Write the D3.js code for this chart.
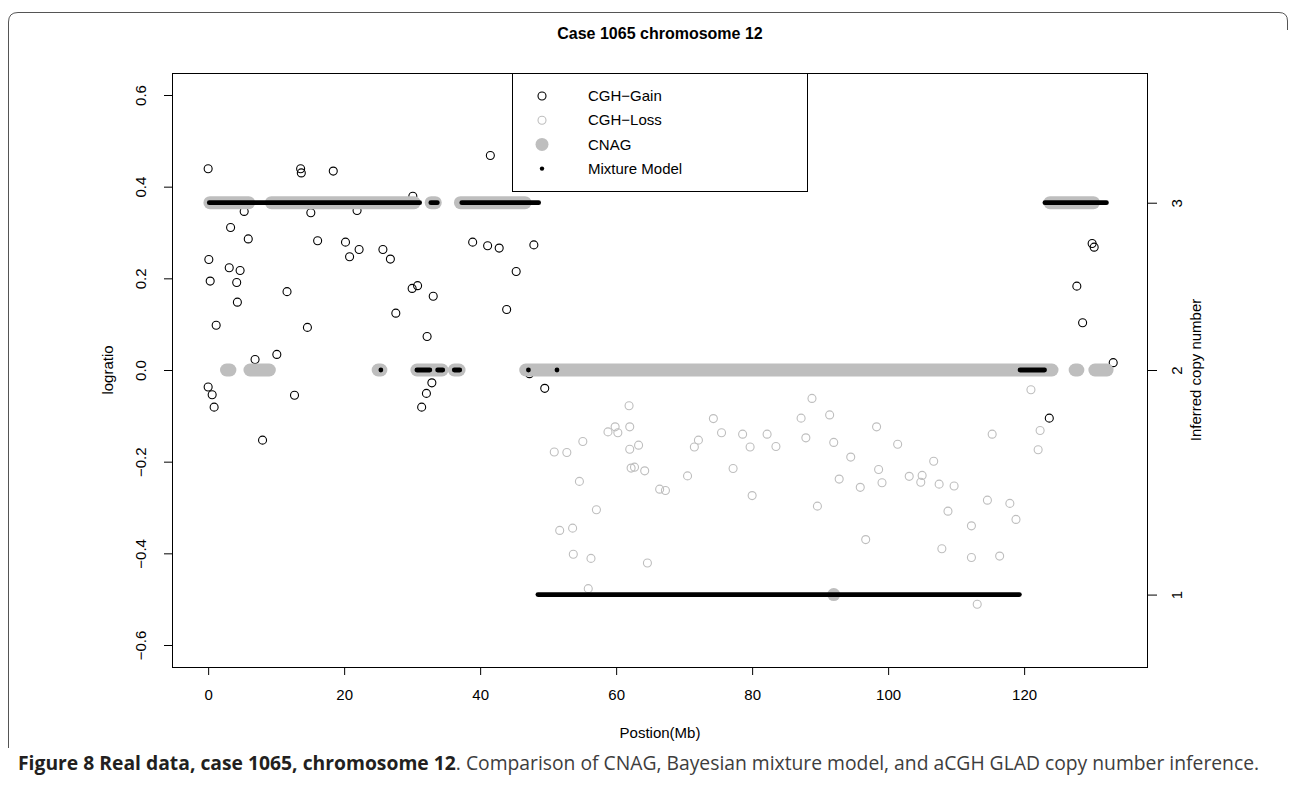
<!DOCTYPE html>
<html>
<head>
<meta charset="utf-8">
<script src="https://cdn.jsdelivr.net/npm/d3@7"></script>
<style>
  html, body { margin: 0; padding: 0; background: #fff; }
  svg { display: block; }
</style>
</head>
<body>
<svg id="chart" width="1290" height="785"></svg>
<script>
// ---------------- DATA ----------------
const titleText = "Case 1065 chromosome 12";
const xLabel = "Postion(Mb)";
const yLabel = "logratio";
const y2Label = "Inferred copy number";
const xTicks = [0, 20, 40, 60, 80, 100, 120];
const yTicks = [-0.6, -0.4, -0.2, 0.0, 0.2, 0.4, 0.6];
const xLim = [0, 132.9];
const yLim = [-0.6, 0.6];

// inferred copy number levels and the logratio at which they are drawn
const copyLevels = [1, 2, 3];
const copyLogratio = [-0.49, 0.0, 0.365];

// CGH (GLAD) gains: position (Mb) and logratio
const gainPos = [0.0, 0.1, 0.3, 1.18, 0.0, 0.59, 0.88, 3.3, 3.1, 4.2, 4.7, 4.3, 5.3, 5.9, 6.9, 8.0,
  10.1, 11.6, 12.7, 13.6, 13.7, 14.6, 15.1, 16.1, 18.4, 20.2, 20.8, 21.9, 22.2, 25.7, 26.8, 27.6,
  30.1, 30.0, 30.8, 32.2, 33.1, 32.9, 32.1, 31.4, 38.9, 41.5, 41.1, 42.8, 43.9, 45.3, 47.9, 49.5,
  47.25, 123.7, 127.75, 128.6, 130.0, 130.3, 133.1];
const gainLogratio = [0.439, 0.241, 0.194, 0.0975, -0.037, -0.054, -0.081, 0.311, 0.223, 0.191, 0.217, 0.148, 0.346, 0.286, 0.023, -0.153,
  0.034, 0.171, -0.055, 0.439, 0.430, 0.093, 0.343, 0.282, 0.434, 0.279, 0.247, 0.348, 0.263, 0.263, 0.242, 0.124,
  0.379, 0.178, 0.184, 0.073, 0.161, -0.028, -0.051, -0.081, 0.279, 0.468, 0.271, 0.266, 0.132, 0.215, 0.273, -0.040,
  -0.008, -0.105, 0.183, 0.103, 0.276, 0.268, 0.016];

// CGH (GLAD) losses
const lossPos = [61.9, 59.85, 58.8, 60.25, 62.0, 55.1, 50.9, 52.75, 62.0, 63.3, 54.6, 62.2, 62.7, 64.2, 57.1,
  51.7, 53.6, 53.7, 56.3, 64.6, 55.9, 66.4, 67.25, 70.5, 71.5, 72.1, 74.3, 75.5, 77.2, 78.6, 79.7, 80.0,
  82.2, 83.5, 87.2, 87.9, 88.8, 89.6, 91.4, 92.0, 92.8, 94.5, 95.9, 96.7, 98.3, 98.6, 99.1, 101.4, 103.1,
  105.0, 104.8, 106.7, 107.5, 109.7, 108.8, 107.9, 112.25, 112.25, 113.1, 114.6, 115.3, 116.4, 117.9,
  118.8, 121.0, 122.35, 122.06];
const lossLogratio = [-0.078, -0.124, -0.135, -0.137, -0.124, -0.156, -0.179, -0.180, -0.173, -0.164, -0.243, -0.214, -0.212, -0.220, -0.305,
  -0.350, -0.345, -0.402, -0.411, -0.421, -0.477, -0.260, -0.263, -0.231, -0.168, -0.153, -0.106, -0.137, -0.215, -0.140, -0.168, -0.274,
  -0.140, -0.167, -0.105, -0.148, -0.062, -0.297, -0.098, -0.158, -0.238, -0.190, -0.256, -0.370, -0.124, -0.217, -0.246, -0.162, -0.232,
  -0.230, -0.245, -0.199, -0.249, -0.253, -0.308, -0.390, -0.340, -0.409, -0.511, -0.284, -0.140, -0.406, -0.291,
  -0.326, -0.043, -0.132, -0.174];

// CNAG calls: runs of consecutive SNPs (start Mb, end Mb, copy number)
const cnagStart = [0.26, 9.3, 32.8, 37.1, 123.8, 2.7, 6.15, 25.0, 30.7, 36.2, 46.7, 127.5, 130.4, 92.0];
const cnagEnd   = [5.96, 30.3, 33.4, 46.6, 130.2, 3.2, 9.0, 25.4, 34.4, 36.9, 124.1, 127.9, 132.2, 92.0];
const cnagCopy  = [3, 3, 3, 3, 3, 2, 2, 2, 2, 2, 2, 2, 2, 1];

// Mixture model calls: runs of consecutive SNPs (start Mb, end Mb, copy number)
const mixStart = [0.17, 32.75, 37.3, 123.06, 25.4, 30.7, 33.75, 36.2, 47.1, 51.3, 119.4, 48.5];
const mixEnd   = [31.1, 33.7, 48.6, 132.1, 25.4, 32.6, 34.5, 37.0, 47.1, 51.3, 123.0, 119.3];
const mixCopy  = [3, 3, 3, 3, 2, 2, 2, 2, 2, 2, 2, 1];

const legendLabels = ["CGH\u2212Gain", "CGH\u2212Loss", "CNAG", "Mixture Model"];
const captionBold = "Figure 8 Real data, case 1065, chromosome 12";
const captionRest = ". Comparison of CNAG, Bayesian mixture model, and aCGH GLAD copy number inference.";

// ---------------- DRAWING ----------------
const svg = d3.select("#chart");
const FONT = "'Liberation Sans', Arial, Helvetica, sans-serif";
const GRAY = "#bebebe";
const plot = { left: 172, right: 1148, top: 73, bottom: 667 };

const xPad = 0.04 * (xLim[1] - xLim[0]);
const yPad = 0.04 * (yLim[1] - yLim[0]);
const x = d3.scaleLinear().domain([xLim[0] - xPad, xLim[1] + xPad]).range([plot.left, plot.right]);
const y = d3.scaleLinear().domain([yLim[0] - yPad, yLim[1] + yPad]).range([plot.bottom, plot.top]);
const copyToLr = d3.scaleOrdinal().domain(copyLevels).range(copyLogratio);

// figure frame (top and left rounded border)
svg.append("path")
  .attr("d", "M8.5,748 L8.5,22 Q8.5,12.5 18,12.5 L1279,12.5 Q1287.5,12.5 1287.5,21 L1287.5,30")
  .attr("fill", "none").attr("stroke", "#555").attr("stroke-width", 1);

// title
svg.append("text").attr("x", (plot.left + plot.right) / 2).attr("y", 39)
  .attr("text-anchor", "middle").attr("font-family", FONT).attr("font-weight", "bold")
  .attr("font-size", 16).attr("fill", "#000").text(titleText);

const g = svg.append("g");

// CGH gain circles
g.append("g").selectAll("circle").data(gainPos).join("circle")
  .attr("cx", (d) => x(d)).attr("cy", (d, i) => y(gainLogratio[i])).attr("r", 4)
  .attr("fill", "none").attr("stroke", "#000").attr("stroke-width", 1.1);

// CGH loss circles
g.append("g").selectAll("circle").data(lossPos).join("circle")
  .attr("cx", (d) => x(d)).attr("cy", (d, i) => y(lossLogratio[i])).attr("r", 4)
  .attr("fill", "none").attr("stroke", GRAY).attr("stroke-width", 1.1);

// CNAG runs (dense large grey dots -> rounded bands)
const rC = 6.5;
g.append("g").selectAll("rect").data(cnagStart).join("rect")
  .attr("x", (d) => x(d) - rC)
  .attr("width", (d, i) => x(cnagEnd[i]) - x(d) + 2 * rC)
  .attr("y", (d, i) => y(copyToLr(cnagCopy[i])) - rC)
  .attr("height", 2 * rC).attr("rx", rC).attr("ry", rC)
  .attr("fill", GRAY);

// mixture model runs (dense small black dots)
const rM = 2.4;
g.append("g").selectAll("rect").data(mixStart).join("rect")
  .attr("x", (d) => x(d) - rM)
  .attr("width", (d, i) => x(mixEnd[i]) - x(d) + 2 * rM)
  .attr("y", (d, i) => y(copyToLr(mixCopy[i])) - rM)
  .attr("height", 2 * rM).attr("rx", rM).attr("ry", rM)
  .attr("fill", "#000");

// plot box
svg.append("rect").attr("x", plot.left + 0.5).attr("y", plot.top + 0.5)
  .attr("width", plot.right - plot.left - 1).attr("height", plot.bottom - plot.top)
  .attr("fill", "none").attr("stroke", "#000").attr("stroke-width", 1);

const fmt = (v) => (v < 0 ? "\u2212" : "") + Math.abs(v).toFixed(1);
const FS = 15;

// bottom axis
const xAxis = svg.append("g").attr("transform", `translate(0,${plot.bottom})`)
  .call(d3.axisBottom(x).tickValues(xTicks).tickSize(8).tickSizeOuter(0).tickFormat(d3.format("d")));
xAxis.select(".domain").remove();
xAxis.selectAll("line").attr("stroke", "#000");
xAxis.selectAll("text").attr("y", 28).attr("dy", "0.35em")
  .attr("font-family", FONT).attr("font-size", FS).attr("fill", "#000");

// left axis
const yAxis = svg.append("g").attr("transform", `translate(${plot.left},0)`)
  .call(d3.axisLeft(y).tickValues(yTicks).tickSize(8).tickSizeOuter(0).tickFormat(fmt));
yAxis.select(".domain").remove();
yAxis.selectAll("line").attr("stroke", "#000");
yAxis.selectAll("text").attr("x", 0).attr("dy", "0.35em")
  .attr("transform", "translate(-31,0) rotate(-90)").attr("text-anchor", "middle")
  .attr("font-family", FONT).attr("font-size", FS).attr("fill", "#000");

// right axis (inferred copy number)
const y2 = d3.scaleLinear().domain(copyLogratio).range(copyLogratio.map((v) => y(v)));
const y2Axis = svg.append("g").attr("transform", `translate(${plot.right},0)`)
  .call(d3.axisRight(y2).tickValues(copyLogratio).tickSize(9).tickSizeOuter(0)
    .tickFormat((d, i) => String(copyLevels[i])));
y2Axis.select(".domain").remove();
y2Axis.selectAll("line").attr("stroke", "#000");
y2Axis.selectAll("text").attr("x", 0).attr("dy", "0.35em")
  .attr("transform", "translate(29,0) rotate(-90)").attr("text-anchor", "middle")
  .attr("font-family", FONT).attr("font-size", FS).attr("fill", "#000");

// axis titles
svg.append("text").attr("x", (plot.left + plot.right) / 2).attr("y", 733).attr("dy", "0.35em")
  .attr("text-anchor", "middle").attr("font-family", FONT).attr("font-size", FS).text(xLabel);
svg.append("text").attr("transform", `translate(108,${(plot.top + plot.bottom) / 2}) rotate(-90)`)
  .attr("dy", "0.35em").attr("text-anchor", "middle").attr("font-family", FONT).attr("font-size", FS).text(yLabel);
svg.append("text").attr("transform", `translate(1196,${(plot.top + plot.bottom) / 2}) rotate(-90)`)
  .attr("dy", "0.35em").attr("text-anchor", "middle").attr("font-family", FONT).attr("font-size", FS).text(y2Label);

// legend
const lg = svg.append("g");
lg.append("rect").attr("x", 512.5).attr("y", plot.top + 0.5).attr("width", 295).attr("height", 118)
  .attr("fill", "#fff").attr("stroke", "#000").attr("stroke-width", 1);
const rowY = (i) => 96 + i * 24.2;
const symX = 542;
lg.append("circle").attr("cx", symX).attr("cy", rowY(0)).attr("r", 4)
  .attr("fill", "none").attr("stroke", "#000").attr("stroke-width", 1.1);
lg.append("circle").attr("cx", symX).attr("cy", rowY(1)).attr("r", 4)
  .attr("fill", "none").attr("stroke", GRAY).attr("stroke-width", 1.1);
lg.append("circle").attr("cx", symX).attr("cy", rowY(2)).attr("r", rC).attr("fill", GRAY);
lg.append("circle").attr("cx", symX).attr("cy", rowY(3)).attr("r", 2.2).attr("fill", "#000");
lg.selectAll("text.leg").data(legendLabels).join("text").attr("class", "leg")
  .attr("x", 588).attr("y", (d, i) => rowY(i)).attr("dy", "0.35em")
  .attr("font-family", FONT).attr("font-size", FS).attr("fill", "#000").text((d) => d);

// caption
const cap = svg.append("text").attr("x", 18).attr("y", 770)
  .attr("font-family", "'Open Sans', 'Noto Sans', sans-serif").attr("font-size", 17);
cap.append("tspan").attr("font-weight", "bold").attr("fill", "#231f20").text(captionBold);
cap.append("tspan").attr("fill", "#3d3d3d").text(captionRest);
const capW = cap.node().getComputedTextLength();
cap.attr("font-size", 17 * 1242 / capW);
</script>
</body>
</html>
